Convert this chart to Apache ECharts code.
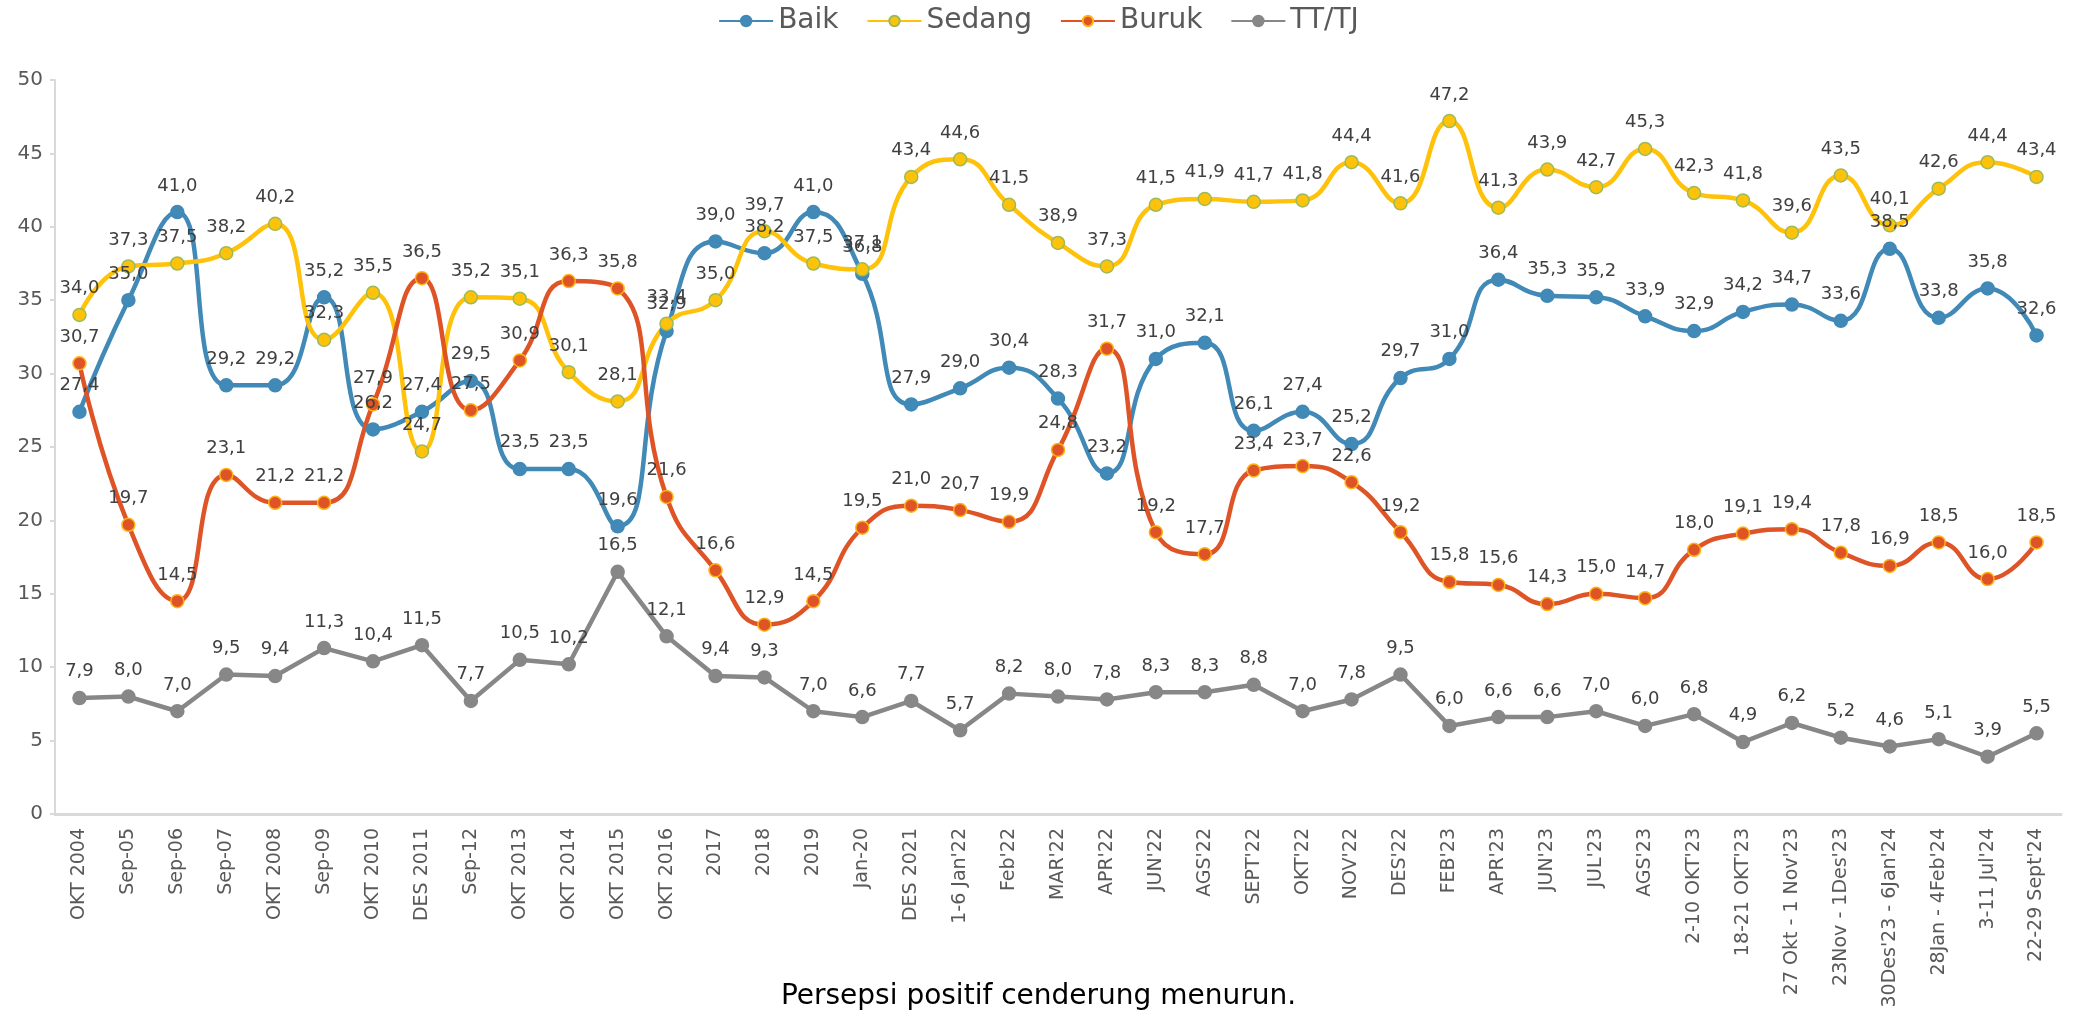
<!DOCTYPE html>
<html>
<head>
<meta charset="utf-8">
<title>Persepsi</title>
<script src="https://cdn.jsdelivr.net/npm/echarts@6/dist/echarts.min.js"></script>
<style>
html, body { margin: 0; padding: 0; background: #fff; }
#chart { width: 2077px; height: 1016px; }
</style>
</head>
<body>
<div id="chart"></div>
<script>
var categories = ['OKT 2004', 'Sep-05', 'Sep-06', 'Sep-07', 'OKT 2008', 'Sep-09', 'OKT 2010', 'DES 2011', 'Sep-12',
	'OKT 2013', 'OKT 2014', 'OKT 2015', 'OKT 2016', '2017', '2018', '2019', 'Jan-20', 'DES 2021', '1-6 Jan\'22',
	'Feb\'22', 'MAR\'22', 'APR\'22', 'JUN\'22', 'AGS\'22', 'SEPT\'22', 'OKT\'22', 'NOV\'22', 'DES\'22', 'FEB\'23',
	'APR\'23', 'JUN\'23', 'JUL\'23', 'AGS\'23', '2-10 OKT\'23', '18-21 OKT\'23', '27 Okt - 1 Nov\'23',
	'23Nov - 1Des\'23', '30Des\'23 - 6Jan\'24', '28Jan - 4Feb\'24', '3-11 Jul\'24', '22-29 Sept\'24'];

var baik = [27.4, 35.0, 41.0, 29.2, 29.2, 35.2, 26.2, 27.4, 29.5, 23.5, 23.5, 19.6, 32.9, 39.0, 38.2, 41.0, 36.8,
	27.9, 29.0, 30.4, 28.3, 23.2, 31.0, 32.1, 26.1, 27.4, 25.2, 29.7, 31.0, 36.4, 35.3, 35.2, 33.9, 32.9, 34.2,
	34.7, 33.6, 38.5, 33.8, 35.8, 32.6];
var sedang = [34.0, 37.3, 37.5, 38.2, 40.2, 32.3, 35.5, 24.7, 35.2, 35.1, 30.1, 28.1, 33.4, 35.0, 39.7, 37.5, 37.1,
	43.4, 44.6, 41.5, 38.9, 37.3, 41.5, 41.9, 41.7, 41.8, 44.4, 41.6, 47.2, 41.3, 43.9, 42.7, 45.3, 42.3, 41.8,
	39.6, 43.5, 40.1, 42.6, 44.4, 43.4];
var buruk = [30.7, 19.7, 14.5, 23.1, 21.2, 21.2, 27.9, 36.5, 27.5, 30.9, 36.3, 35.8, 21.6, 16.6, 12.9, 14.5, 19.5,
	21.0, 20.7, 19.9, 24.8, 31.7, 19.2, 17.7, 23.4, 23.7, 22.6, 19.2, 15.8, 15.6, 14.3, 15.0, 14.7, 18.0, 19.1,
	19.4, 17.8, 16.9, 18.5, 16.0, 18.5];
var tttj = [7.9, 8.0, 7.0, 9.5, 9.4, 11.3, 10.4, 11.5, 7.7, 10.5, 10.2, 16.5, 12.1, 9.4, 9.3, 7.0, 6.6, 7.7, 5.7,
	8.2, 8.0, 7.8, 8.3, 8.3, 8.8, 7.0, 7.8, 9.5, 6.0, 6.6, 6.6, 7.0, 6.0, 6.8, 4.9, 6.2, 5.2, 4.6, 5.1, 3.9, 5.5];

var font = 'DejaVu Sans';

function makeSeries(name, data, color, border, smooth){
	return {
		name: name,
		type: 'line',
		data: data,
		smooth: smooth ? 0.5 : false,
		smoothConstraint: false,
		symbol: 'circle',
		symbolSize: 13,
		lineStyle: { color: color, width: 4.5 },
		itemStyle: { color: color, borderColor: border, borderWidth: 1.5 },
		label: {
			show: true,
			position: 'top',
			distance: 10,
			color: '#404040',
			fontFamily: font,
			fontSize: 18,
			formatter: function(p){
				return p.value.toFixed(1).replace('.', ',');
			}
		}
	};
}

var myChart = echarts.init(document.getElementById('chart'));
var option = {
	backgroundColor: '#fff',
	animation: false,
	title: {
		text: 'Persepsi positif cenderung menurun.',
		left: 'center',
		top: 978,
		textStyle: { fontFamily: font, fontSize: 28, fontWeight: 'normal', color: '#000' }
	},
	legend: {
		top: 2,
		left: 'center',
		itemWidth: 54,
		itemHeight: 13,
		itemGap: 28,
		textStyle: { fontFamily: font, fontSize: 28, color: '#595959' },
		data: ['Baik', 'Sedang', 'Buruk', 'TT/TJ']
	},
	grid: {
		left: 55,
		right: 16,
		top: 80,
		bottom: 202,
		containLabel: false
	},
	xAxis: {
		type: 'category',
		data: categories,
		boundaryGap: true,
		axisLine: { lineStyle: { color: '#d9d9d9', width: 3 } },
		axisTick: { show: false },
		axisLabel: {
			interval: 0,
			rotate: 90,
			margin: 14,
			color: '#595959',
			fontFamily: font,
			fontSize: 19
		}
	},
	yAxis: {
		type: 'value',
		min: 0,
		max: 50,
		interval: 5,
		splitLine: { show: false },
		axisLine: { show: true, lineStyle: { color: '#d9d9d9', width: 2 } },
		axisTick: { show: true, length: 5, lineStyle: { color: '#d9d9d9', width: 2 } },
		axisLabel: { color: '#595959', fontFamily: font, fontSize: 20, margin: 12 }
	},
	series: [
		makeSeries('Baik', baik, '#4189b6', '#4189b6', true),
		makeSeries('Sedang', sedang, '#fec20a', '#9bbb59', true),
		makeSeries('Buruk', buruk, '#df5426', '#fdb316', true),
		makeSeries('TT/TJ', tttj, '#878787', '#878787', false)
	]
};
myChart.setOption(option);
</script>
</body>
</html>
